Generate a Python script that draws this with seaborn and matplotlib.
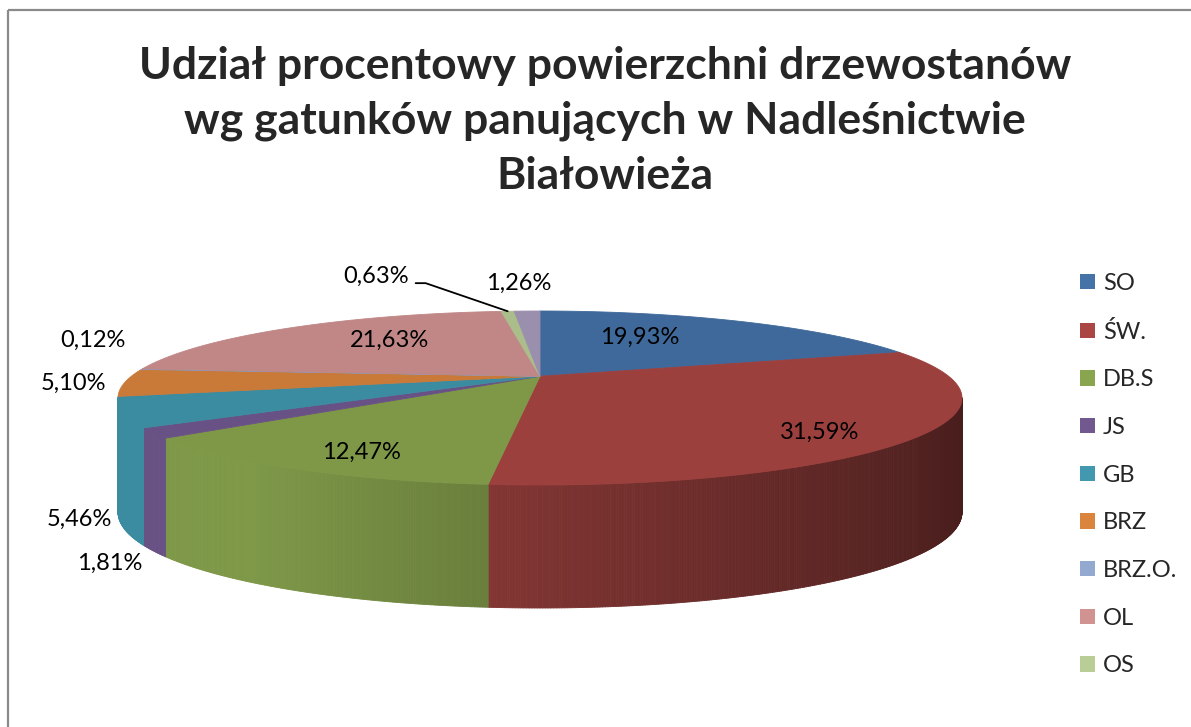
import numpy as np
import matplotlib.pyplot as plt
import seaborn as sns
from matplotlib.collections import PolyCollection
from matplotlib.patches import Patch, Rectangle

# Dane: udzial procentowy powierzchni drzewostanow wg gatunkow panujacych
gatunki = ["SO", "ŚW.", "DB.S", "JS", "GB", "BRZ", "BRZ.O.", "OL", "OS", "INNE"]
udzial = [19.93, 31.59, 12.47, 1.81, 5.46, 5.10, 0.12, 21.63, 0.63, 1.26]
kolory = ["#4572A7", "#AA4643", "#89A54E", "#71588F", "#4198AF",
          "#DB843D", "#93A9CF", "#D19392", "#B9CD96", "#A99BBD"]
tytul = "Udział procentowy powierzchni drzewostanów\nwg gatunków panujących w Nadleśnictwie\nBiałowieża"

sns.set_style("white")
plt.rcParams['font.family'] = ['Lato', 'DejaVu Sans']
paleta = np.array(sns.color_palette(kolory))

# geometria wykresu "3D" w pikselach
CX, CY, RX, RY = 540, 398, 422, 87
A = 0.25                      # perspektywa
C = np.sqrt(1 - A ** 2)


def rzut(u, v):
    s = 1 + A * v
    return CX + RX * C * u / s, CY - RY * (v + A) / s


def glebokosc(v):
    return 111 - 12 * v


fig = plt.figure(figsize=(11.91, 7.27), dpi=100)
ax = fig.add_axes([0, 0, 1, 1])
ax.set_xlim(0, 1191)
ax.set_ylim(727, 0)
ax.axis("off")

kat = np.concatenate([[0], np.cumsum(udzial)]) / sum(udzial) * 2 * np.pi

# sciany boczne (tylko przod)
sciany, kol_sc = [], []
for i in range(len(udzial)):
    n = max(3, int((kat[i + 1] - kat[i]) * 200))
    t = np.linspace(kat[i], kat[i + 1], n)
    for t0, t1 in zip(t[:-1], t[1:]):
        tm = (t0 + t1) / 2
        if np.cos(tm) > -A + 0.005:
            continue
        x0, y0 = rzut(np.sin(t0), np.cos(t0))
        x1, y1 = rzut(np.sin(t1), np.cos(t1))
        d0, d1 = glebokosc(np.cos(t0)), glebokosc(np.cos(t1))
        sciany.append([(x0, y0), (x1, y1), (x1, y1 + d1), (x0, y0 + d0)])
        f = np.clip(0.8 - 0.36 * np.sin(tm), 0, 1) * 0.92
        kol_sc.append(paleta[i] * f)
ax.add_collection(PolyCollection(sciany, facecolors=kol_sc, edgecolors=kol_sc, linewidths=0.6))

# wierzch tortu
apex = rzut(0, 0)
for i in range(len(udzial)):
    t = np.linspace(kat[i], kat[i + 1], max(3, int((kat[i + 1] - kat[i]) * 200)))
    xs, ys = rzut(np.sin(t), np.cos(t))
    pts = [apex] + list(zip(xs, ys))
    kol = paleta[i] * 0.92
    ax.add_patch(plt.Polygon(pts, closed=True, fc=kol, ec=kol, lw=0.6))

# etykiety danych
etykiety = [f"{v:.2f}%".replace(".", ",") for v in udzial]
przesun = [(-47, 2), (29, 16), (-20, 16), (12, 4), (12, -13),
           (0, 0), (-2, -28), (32, 0), (-129, -29), (-7, -22)]
for i, tekst in enumerate(etykiety):
    tm = (kat[i] + kat[i + 1]) / 2
    u, v = np.sin(tm), np.cos(tm)
    if udzial[i] > 10:
        x, y = rzut(0.7 * u, 0.7 * v)
    else:
        x, y = rzut(1.12 * u, 1.12 * v)
        if v < -A:
            y += glebokosc(v)
    x += przesun[i][0]
    y += przesun[i][1]
    ax.text(x, y, tekst, ha="center", va="center", fontsize=17, color="black")
    if gatunki[i] == "OS":
        xr, yr = rzut(u, v)
        ax.plot([x + 40, x + 50, xr], [y + 7, y + 7, yr], color="black", lw=1.3)

ax.text(605, 121, tytul, ha="center", va="center", fontsize=32,
        fontweight="bold", linespacing=1.46)

uchwyty = [Patch(facecolor=paleta[i], edgecolor="none") for i in range(9)]
ax.legend(uchwyty, gatunki[:9], loc="upper left",
          bbox_to_anchor=(1080 / 1191, 1 - 273 / 727), frameon=False,
          fontsize=17, handlelength=0.62, handleheight=0.62,
          handletextpad=0.35, labelspacing=1.13, borderpad=0, borderaxespad=0)

ax.add_patch(Rectangle((7.5, 9.5), 1300, 800, fill=False, ec="#8A8A8A", lw=1.6))

fig.savefig("out.png", dpi=100)
